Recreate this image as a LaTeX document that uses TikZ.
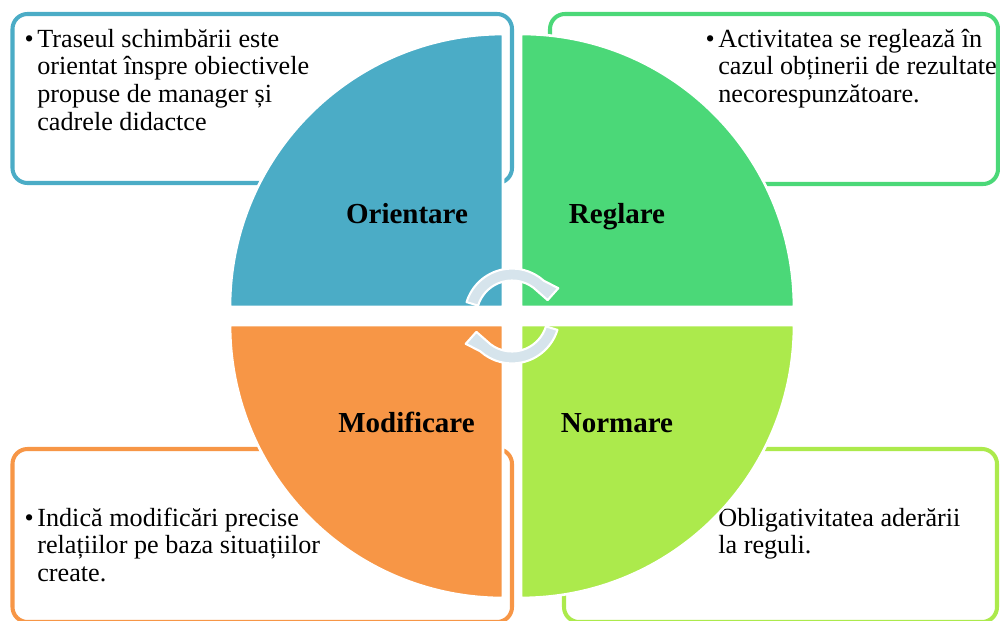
\documentclass[tikz,border=0pt]{standalone}
\usepackage{fontspec}
\setmainfont{Liberation Serif}
\usetikzlibrary{positioning}

\definecolor{orientBlue}{HTML}{4BACC6}
\definecolor{reglGreen}{HTML}{4BD878}
\definecolor{normLime}{HTML}{ACEA4C}
\definecolor{modifOrange}{HTML}{F79646}
\definecolor{turnGrey}{HTML}{D6E4EC}

\begin{document}
\begin{tikzpicture}[x=0.02cm, y=0.02cm,
    box/.style={line width=2.3pt, rounded corners=0.3cm, fill=white},
    quad/.style={draw=white, line width=1.5pt},
    note/.style={inner sep=0pt, align=left, anchor=base west,
        font=\fontsize{14.9}{15.8}\selectfont},
    title/.style={inner sep=0pt, anchor=base,
        font=\fontsize{16.5}{18}\selectfont\bfseries},
    turn/.style={fill=turnGrey, draw=white, line width=1.2pt, line join=round}]
    \useasboundingbox (0,0) rectangle (1000,620);

    % BOXES
    \draw[box, draw=orientBlue] (12.5,437) rectangle (512,606);
    \draw[box, draw=reglGreen] (550,436) rectangle (998,606);
    \draw[box, draw=modifOrange] (12.5,-2) rectangle (512,171);
    \draw[box, draw=normLime] (564,-2) rectangle (997,171);

    % NOTES (placed at the baseline of their last line)
    \node[note] (noteO) at (37,489.6) {\llap{\textbullet\hspace{2pt}}Traseul schimbării este\\orientat înspre obiectivele\\propuse de manager și\\cadrele didactce};
    \node[note] (noteR) at (718,517.4) {\llap{\textbullet\hspace{2pt}}Activitatea se reglează în\\cazul obținerii de rezultate\\necorespunzătoare.};
    \node[note] (noteM) at (37,38.4) {\llap{\textbullet\hspace{2pt}}Indică modificări precise\\relațiilor pe baza situațiilor\\create.};
    \node[note] (noteN) at (718,66.2) {\llap{\textbullet\hspace{2pt}}Obligativitatea aderării\\la reguli.};

    % QUADRANTS
    \filldraw[quad, fill=orientBlue] (503,313) -- ++(-273,0) arc[start angle=180, end angle=90, radius=5.46cm] -- cycle;
    \filldraw[quad, fill=reglGreen] (521,313) -- ++(0,273) arc[start angle=90, end angle=0, radius=5.46cm] -- cycle;
    \filldraw[quad, fill=normLime] (521,295) -- ++(273,0) arc[start angle=0, end angle=-90, radius=5.46cm] -- cycle;
    \filldraw[quad, fill=modifOrange] (503,295) -- ++(0,-273) arc[start angle=270, end angle=180, radius=5.46cm] -- cycle;

    % TITLES
    \node[title] (orient) at (407,397) {Orientare};
    \node[title] (regl) at (617,397) {Reglare};
    \node[title] (modif) at (406.5,188) {Modificare};
    \node[title] (norm) at (617,188) {Normare};

    % CYCLE ARROWS
    \coordinate (hub) at (512,304);
    \foreach \rot in {0,180}
        \filldraw[turn, shift={(hub)}, rotate=\rot] (163:47.5) arc[start angle=163, end angle=48, radius=0.95cm]
            -- (31:54) -- (24:39) -- (53:35.5) arc[start angle=53, end angle=163, radius=0.71cm] -- cycle;

\end{tikzpicture}
\end{document}
